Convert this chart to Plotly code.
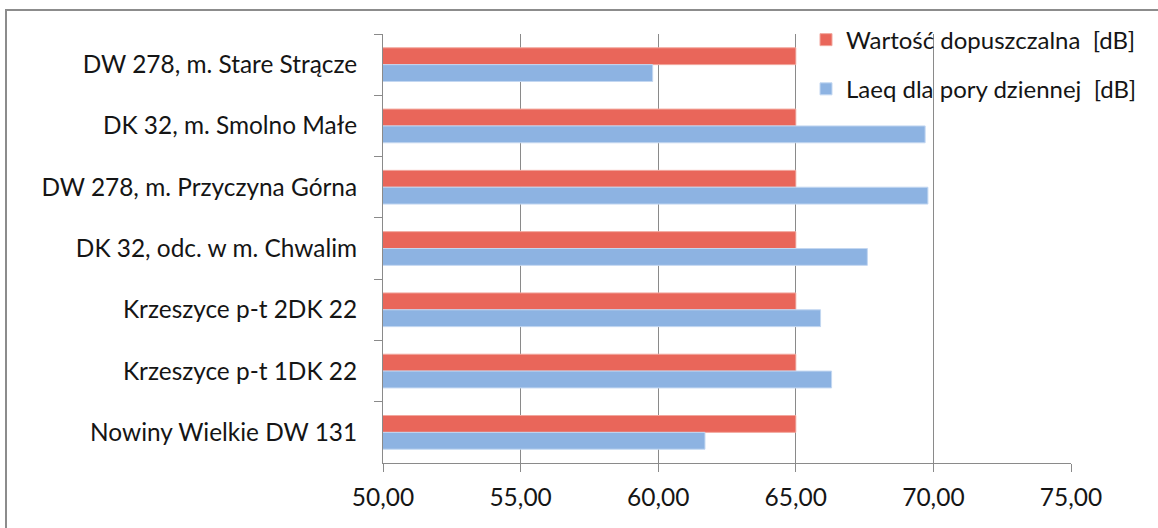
import plotly.graph_objects as go

# Measurement points (top to bottom)
locations = [
    "DW 278, m. Stare Strącze",
    "DK 32, m. Smolno Małe",
    "DW 278, m. Przyczyna Górna",
    "DK 32, odc. w m. Chwalim",
    "Krzeszyce p-t 2DK 22",
    "Krzeszyce p-t 1DK 22",
    "Nowiny Wielkie DW 131",
]
limit_db = [65.0, 65.0, 65.0, 65.0, 65.0, 65.0, 65.0]
laeq_day_db = [59.8, 69.7, 69.8, 67.6, 65.9, 66.3, 61.7]

series_names = ["Wartość dopuszczalna\u00a0\u00a0[dB]", "Laeq dla pory dziennej\u00a0\u00a0[dB]"]
x_ticks = [50, 55, 60, 65, 70, 75]

FONT = "Lato"
GRAY = "#8a8a8a"
TXT = "#151515"

fig = go.Figure()
fig.add_trace(go.Bar(
    y=locations, x=limit_db, orientation="h", name=series_names[0],
    marker=dict(color="#E9665A", line=dict(color="#F2A79E", width=1)),
    legendgroup="a",
))
fig.add_trace(go.Bar(
    y=locations, x=laeq_day_db, orientation="h", name=series_names[1],
    marker=dict(color="#8DB3E2", line=dict(color="#C3D7F1", width=1)),
    legendgroup="b",
))

plot_w = 1158 - 383 - 87
plot_h = 528 - 34 - 65

fig.update_layout(
    width=1158, height=528,
    margin=dict(l=383, r=87, t=34, b=65),
    paper_bgcolor="white", plot_bgcolor="white",
    barmode="group", bargap=0.45, bargroupgap=0,
    separators=", ",
    font=dict(family=FONT, size=24, color=TXT),
    showlegend=True,
    legend=dict(
        x=(806 - 383) / plot_w, xanchor="left", y=1.05 - 5 / plot_h, yanchor="top",
        font=dict(family=FONT, size=24, color=TXT),
        bgcolor="rgba(0,0,0,0)", tracegroupgap=15,
    ),
)

fig.update_xaxes(
    range=[50, 75], tickvals=x_ticks, tickformat=".2f",
    showgrid=True, gridcolor=GRAY, gridwidth=1,
    showline=True, linecolor=GRAY, linewidth=1,
    ticks="outside", ticklen=8, tickcolor=GRAY,
    ticklabelstandoff=5,
    zeroline=False, tickfont=dict(size=24.5),
)
fig.update_yaxes(
    autorange="reversed", tickson="boundaries",
    showgrid=False, showline=True, linecolor=GRAY, linewidth=1,
    ticks="outside", ticklen=8, tickcolor=GRAY,
    ticklabelstandoff=20, tickfont=dict(size=24.4),
)

# outer chart frame
fig.add_shape(type="rect", xref="paper", yref="paper",
              x0=(6 - 383) / plot_w, x1=(1200 - 383) / plot_w,
              y0=-(600 - 463) / plot_h, y1=1 + (34 - 10) / plot_h,
              line=dict(color="#8c8c8c", width=2), layer="below")

fig.write_html("out.html")
